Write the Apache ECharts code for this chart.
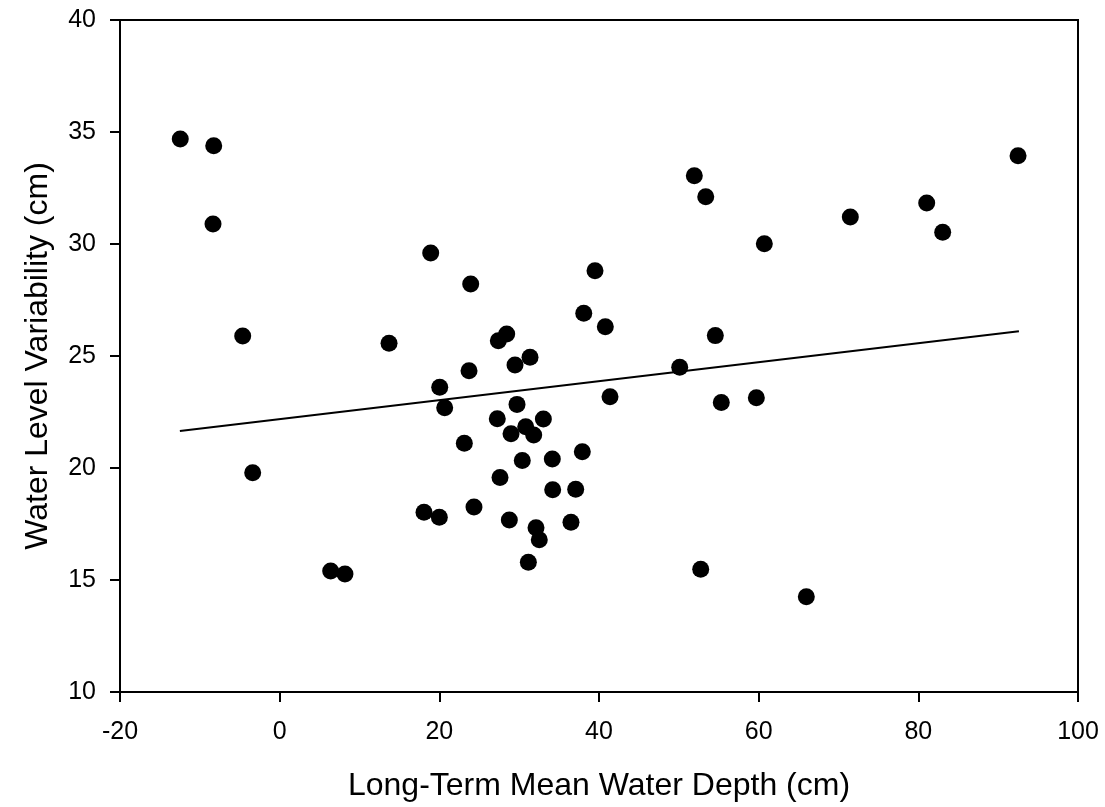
<!DOCTYPE html>
<html>
<head>
<meta charset="utf-8">
<script src="https://cdn.jsdelivr.net/npm/echarts@6/dist/echarts.min.js"></script>
<style>
  html, body { margin: 0; padding: 0; background: #fff; }
  #chart { width: 1105px; height: 807px; }
</style>
</head>
<body>
<div id="chart"></div>
<script>
// long-term mean water depth (cm)
const depth = [
  -12.45, -8.26, -8.35, -4.63, -3.38, 6.39, 8.18, 13.7, 18.92, 18.08,
  20.0, 20.05, 20.67, 23.13, 23.72, 23.93, 24.34, 27.26, 27.39, 27.6,
  28.44, 28.77, 28.98, 29.48, 29.73, 30.39, 30.82, 31.36, 31.15, 31.82,
  32.11, 32.52, 33.03, 34.15, 34.2, 36.49, 37.08, 37.91, 38.09, 39.5,
  40.79, 41.38, 50.11, 51.94, 53.37, 52.74, 54.57, 55.32, 59.71, 60.71,
  65.97, 71.48, 81.05, 83.05, 92.49
];
// water level variability (cm)
const variability = [
  34.69, 34.39, 30.89, 25.89, 19.79, 15.4, 15.27, 25.57, 29.6, 18.02,
  17.8, 23.6, 22.69, 21.1, 24.34, 28.21, 18.26, 22.2, 25.68, 19.58,
  25.98, 17.68, 21.53, 24.6, 22.84, 20.33, 21.84, 24.94, 15.79, 21.47,
  17.33, 16.8, 22.19, 20.4, 19.03, 17.58, 19.05, 20.73, 26.91, 28.81,
  26.31, 23.18, 24.5, 33.05, 32.11, 15.48, 25.91, 22.92, 23.14, 30.01,
  14.25, 31.21, 31.83, 30.52, 33.94
];
// regression line end points
const fitX = [-12.5, 92.6];
const fitY = [21.65, 26.1];

const font = "'Liberation Sans', Arial, sans-serif";

const chart = echarts.init(document.getElementById("chart"));
chart.setOption({
  animation: false,
  grid: {
    left: 120,
    right: 27,
    top: 20,
    bottom: 115,
    show: true,
    borderColor: "#000",
    borderWidth: 2,
  },
  xAxis: {
    type: "value",
    min: -20,
    max: 100,
    interval: 20,
    name: "Long-Term Mean Water Depth (cm)",
    nameLocation: "middle",
    nameGap: 78,
    nameTextStyle: { fontSize: 32, color: "#000", fontFamily: font },
    axisLine: { show: true, onZero: false, lineStyle: { color: "#000", width: 2 } },
    axisTick: { show: true, inside: false, length: 10, lineStyle: { color: "#000", width: 2 } },
    axisLabel: { fontSize: 25, color: "#000", fontFamily: font, margin: 28 },
    splitLine: { show: false },
  },
  yAxis: {
    type: "value",
    min: 10,
    max: 40,
    interval: 5,
    name: "Water Level Variability (cm)",
    nameLocation: "middle",
    nameGap: 66,
    nameTextStyle: { fontSize: 32, color: "#000", fontFamily: font },
    axisLine: { show: true, onZero: false, lineStyle: { color: "#000", width: 2 } },
    axisTick: { show: true, inside: false, length: 10, lineStyle: { color: "#000", width: 2 } },
    axisLabel: { fontSize: 25, color: "#000", fontFamily: font, margin: 24 },
    splitLine: { show: false },
  },
  series: [
    {
      type: "line",
      data: fitX.map((x, i) => [x, fitY[i]]),
      symbol: "none",
      lineStyle: { color: "#000", width: 2 },
      z: 1,
    },
    {
      type: "scatter",
      data: depth.map((x, i) => [x, variability[i]]),
      symbol: "circle",
      symbolSize: 17,
      itemStyle: { color: "#000", opacity: 1 },
      z: 2,
    },
  ],
});
</script>
</body>
</html>
